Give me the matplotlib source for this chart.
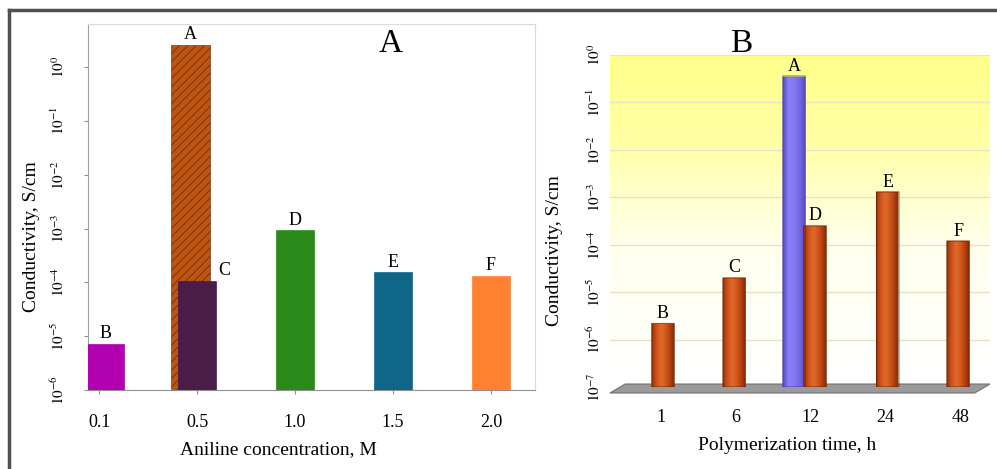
import numpy as np
import matplotlib
matplotlib.use("Agg")
import matplotlib.pyplot as plt
from matplotlib.colors import LinearSegmentedColormap
from matplotlib.lines import Line2D
from matplotlib.patches import Polygon
from matplotlib.ticker import NullLocator

plt.rcParams['font.family'] = ['Liberation Serif', 'DejaVu Serif']
plt.rcParams['mathtext.fontset'] = 'stix'
plt.rcParams['hatch.linewidth'] = 0.5

# ---- panel A: aniline concentration ----
conc_labels = ["0.1", "0.5", "1.0", "1.5", "2.0"]
conc_samples = ["B", "A", "C", "D", "E", "F"]
conc_pos = [0, 1, 1, 2, 3, 4]
conc_values = [7.2e-6, 2.6, 1.07e-4, 9.3e-4, 1.55e-4, 1.32e-4]
conc_exps = [-6, -5, -4, -3, -2, -1, 0]

# ---- panel B: polymerization time ----
time_labels = ["1", "6", "12", "24", "48"]
time_samples = ["B", "C", "A", "D", "E", "F"]
time_pos = [0, 1, 2, 2, 3, 4]
time_values = [2.2e-6, 2.0e-5, 0.36, 2.5e-4, 1.3e-3, 1.2e-4]
time_exps = [-7, -6, -5, -4, -3, -2, -1, 0]

fig = plt.figure(figsize=(9.97, 4.69), dpi=100)

# =========================
# Panel A
# =========================
axA = fig.add_axes([0.0883, 0.1684, 0.4483, 0.7804])
axA.set_yscale('log')
floorA = 1e-6
axA.set_ylim(floorA, 10 ** 0.8)
axA.set_xlim(-0.114, 4.45)

colA = ['#B000B0', '#BC5414', '#4A1C48', '#2A8A1A', '#0F6688', '#FF8030']
shiftA = [0.06, -0.07, 0, 0, 0, 0]
for s, p, v, c, d in zip(conc_samples, conc_pos, conc_values, colA, shiftA):
    x = p + d
    if s == "A":
        axA.bar(x, v - floorA, bottom=floorA, width=0.4, color=c,
                hatch='////', edgecolor='#6A2400', linewidth=0.4, zorder=2)
    else:
        axA.bar(x, v - floorA, bottom=floorA, width=0.39, color=c,
                edgecolor=c, linewidth=0.5, zorder=3)
    if s == "C":
        axA.annotate(s, (x + 0.2, v), xytext=(1, 1), textcoords='offset points',
                     ha='left', va='bottom', fontsize=13)
    else:
        axA.annotate(s, (x, v), xytext=(0, 1), textcoords='offset points',
                     ha='center', va='bottom', fontsize=13)

axA.set_xticks(range(len(conc_labels)))
axA.set_xticklabels(conc_labels, fontsize=13)
axA.set_yticks([10.0 ** e for e in conc_exps])
axA.set_yticklabels([rf'$10^{{{e}}}$' for e in conc_exps], rotation=90,
                    va='center', fontsize=11)
axA.yaxis.set_minor_locator(NullLocator())
axA.tick_params(axis='y', length=3, color='#909090', pad=12)
axA.tick_params(axis='x', length=3, color='#909090', pad=14)
axA.spines['left'].set_color('#A0A0A0')
axA.spines['bottom'].set_color('#909090')
axA.spines['top'].set_color('#DADADA')
axA.spines['right'].set_color('#DADADA')

axA.set_ylabel("Conductivity, S/cm", fontsize=14)
axA.yaxis.set_label_coords(-0.107, 0.42)
axA.set_xlabel("Aniline concentration, M", fontsize=14)
axA.xaxis.label.set_va('center')
axA.xaxis.set_label_coords(0.425, -0.164)
axA.text(0.678, 0.945, "A", transform=axA.transAxes, fontsize=24,
         ha='center', va='center')

# =========================
# Panel B
# =========================
axB = fig.add_axes([0.6118, 0.1748, 0.3811, 0.7079])
axB.set_yscale('log')
floorB = 1e-7
axB.set_ylim(floorB, 1)
axB.set_xlim(-0.678, 4.395)
axB.set_autoscale_on(False)

# yellow wall
wall = LinearSegmentedColormap.from_list('wall', ['#FFFFFF', '#FFFFEC', '#FFFFA6', '#FFFF88'])
grad = np.linspace(0, 1, 256).reshape(-1, 1) ** 1.3
axB.imshow(grad, extent=[0, 1, 0, 1], transform=axB.transAxes, origin='lower',
           cmap=wall, aspect='auto', zorder=0)
axB.grid(axis='y', color='#E2E2C4', linewidth=0.9, zorder=1)
axB.set_axisbelow(True)

orange = LinearSegmentedColormap.from_list('orange', ['#8A2C06', '#CC5018', '#E06A2C',
                                                      '#D0561C', '#A83A0C', '#6E2204'])
violet = LinearSegmentedColormap.from_list('violet', ['#4E42C0', '#8A80F2', '#8378EE',
                                                      '#6E62E0', '#4A3EB8'])
shiftB = [0.03, -0.02, -0.22, 0.06, 0.03, -0.03]
hgrad = np.linspace(0, 1, 64).reshape(1, -1)
w = 0.3
for s, p, v, dx in zip(time_samples, time_pos, time_values, shiftB):
    x = p + dx
    cm = violet if s == "A" else orange
    edge = '#4436A8' if s == "A" else '#6A2000'
    bar = axB.bar(x, v - floorB, bottom=floorB, width=w, color='none',
                  edgecolor=edge, linewidth=0.6, zorder=4)[0]
    bar.set_snap(False)
    im = axB.imshow(hgrad, extent=[x - w / 2 - 0.02, x + w / 2 + 0.02, floorB, v],
                    cmap=cm, aspect='auto', zorder=3)
    im.set_clip_path(bar)
    axB.annotate(s, (x, v), xytext=(0, 1), textcoords='offset points',
                 ha='center', va='bottom', fontsize=13, zorder=5)

# floor slab
axB.add_patch(Polygon([[0.0, -0.018], [0.96, -0.018], [1.0, 0.009], [0.04, 0.009]],
                      closed=True, transform=axB.transAxes, facecolor='#9A9A9A',
                      edgecolor='#707070', linewidth=0.8, clip_on=False, zorder=2))

axB.set_xticks(range(len(time_labels)))
axB.set_xticklabels(time_labels, fontsize=13)
axB.set_yticks([10.0 ** e for e in time_exps])
axB.set_yticklabels([rf'$10^{{{e}}}$' for e in time_exps], rotation=90,
                    va='center', fontsize=11)
axB.yaxis.set_minor_locator(NullLocator())
axB.tick_params(axis='both', length=0)
axB.tick_params(axis='y', pad=5)
axB.tick_params(axis='x', pad=16)
for sp in axB.spines.values():
    sp.set_visible(False)

axB.set_ylabel("Conductivity, S/cm", fontsize=14)
axB.yaxis.set_label_coords(-0.124, 0.41)
axB.set_xlabel("Polymerization time, h", fontsize=14)
axB.xaxis.label.set_va('center')
axB.xaxis.set_label_coords(0.466, -0.175)
axB.text(0.345, 1.033, "B", transform=axB.transAxes, fontsize=24,
         ha='center', va='center')

# outer frame
fig.add_artist(Line2D([0.009, 1.0], [0.979, 0.979], transform=fig.transFigure,
                      color='#505050', linewidth=2.5))
fig.add_artist(Line2D([0.009, 0.009], [0.0, 0.979], transform=fig.transFigure,
                      color='#505050', linewidth=2.5))

fig.savefig("out.png", dpi=100)
